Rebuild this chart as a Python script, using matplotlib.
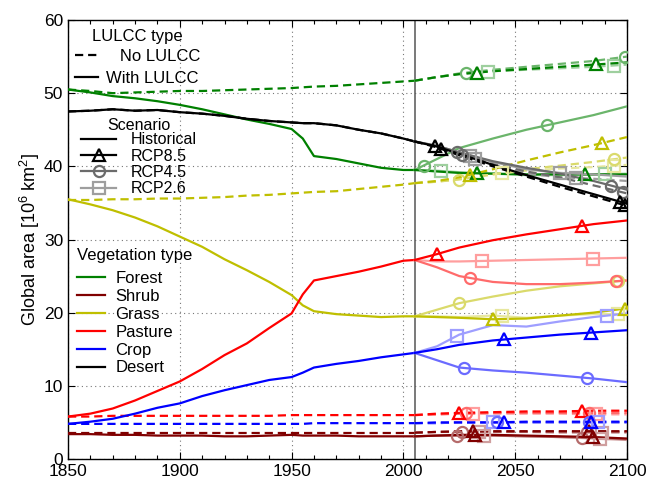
import numpy as np
import matplotlib
matplotlib.use('Agg')
import matplotlib.pyplot as plt
from matplotlib.lines import Line2D
from matplotlib.ticker import MultipleLocator

plt.rcParams['font.family'] = ['Liberation Sans', 'DejaVu Sans']
plt.rcParams['mathtext.fontset'] = 'custom'
plt.rcParams['mathtext.rm'] = 'Liberation Sans'
plt.rcParams['mathtext.it'] = 'Liberation Sans:italic'

# ---------------- data ----------------
veg_types = ['Forest', 'Shrub', 'Grass', 'Pasture', 'Crop', 'Desert']
scenarios = ['RCP8.5', 'RCP4.5', 'RCP2.6']

hist_years = [1850, 1860, 1870, 1880, 1890, 1900, 1910, 1920, 1930, 1940,
              1950, 1955, 1960, 1970, 1980, 1990, 2000, 2005]
fut_years = [2005, 2015, 2025, 2040, 2055, 2070, 2085, 2100]

# historical, with LULCC
forest_hist_with = [50.5, 50.1, 49.6, 49.3, 48.9, 48.4, 47.8, 47.1, 46.4, 45.8, 45.1, 43.8, 41.4, 41.0, 40.4, 39.8, 39.5, 39.5]
shrub_hist_with = [3.4, 3.4, 3.3, 3.3, 3.2, 3.2, 3.2, 3.1, 3.1, 3.2, 3.3, 3.2, 3.2, 3.2, 3.1, 3.1, 3.1, 3.1]
grass_hist_with = [35.5, 34.8, 34.0, 33.0, 31.8, 30.4, 29.0, 27.3, 25.8, 24.2, 22.4, 21.0, 20.2, 19.8, 19.6, 19.4, 19.5, 19.5]
pasture_hist_with = [5.8, 6.2, 6.9, 8.0, 9.3, 10.6, 12.3, 14.2, 15.8, 17.9, 19.9, 22.5, 24.4, 25.0, 25.6, 26.3, 27.1, 27.2]
crop_hist_with = [4.8, 5.1, 5.5, 6.2, 7.0, 7.6, 8.6, 9.4, 10.1, 10.8, 11.2, 11.8, 12.5, 13.0, 13.4, 13.9, 14.3, 14.5]
desert_hist_with = [47.5, 47.6, 47.8, 47.6, 47.7, 47.4, 47.2, 46.9, 46.5, 46.2, 46.0, 45.9, 45.9, 45.6, 45.0, 44.5, 43.8, 43.4]

# historical, no LULCC
forest_hist_no = [50.5, 50.3, 50.0, 50.1, 50.2, 50.3, 50.3, 50.4, 50.5, 50.6, 50.7, 50.8, 50.9, 51.0, 51.2, 51.4, 51.6, 51.7]
shrub_hist_no = [3.6, 3.6, 3.6, 3.6, 3.6, 3.6, 3.6, 3.6, 3.6, 3.6, 3.6, 3.6, 3.6, 3.6, 3.6, 3.6, 3.6, 3.6]
grass_hist_no = [35.4, 35.4, 35.5, 35.5, 35.6, 35.6, 35.7, 35.8, 36.0, 36.1, 36.3, 36.4, 36.5, 36.6, 36.9, 37.2, 37.5, 37.7]
pasture_hist_no = [5.8, 5.8, 5.9, 5.9, 5.9, 5.9, 5.9, 5.9, 5.9, 5.9, 6.0, 6.0, 6.0, 6.0, 6.0, 6.0, 6.0, 6.0]
crop_hist_no = [4.8, 4.8, 4.8, 4.8, 4.8, 4.8, 4.8, 4.8, 4.8, 4.8, 4.8, 4.8, 4.9, 4.9, 4.9, 4.9, 4.9, 4.9]
desert_hist_no = [47.5, 47.6, 47.8, 47.6, 47.7, 47.4, 47.2, 46.9, 46.5, 46.2, 46.0, 45.9, 45.9, 45.6, 45.0, 44.5, 43.8, 43.4]

# future, with LULCC  (RCP8.5, RCP4.5, RCP2.6)
forest_fut_with = [[39.5, 39.3, 39.1, 39.0, 38.9, 38.9, 38.9, 38.9],
                   [39.5, 41.0, 42.5, 43.8, 45.0, 46.0, 47.0, 48.2],
                   [39.5, 39.4, 39.2, 39.0, 38.8, 38.8, 38.9, 39.0]]
shrub_fut_with = [[3.1, 3.2, 3.3, 3.3, 3.2, 3.1, 3.0, 2.8],
                  [3.1, 3.2, 3.2, 3.2, 3.1, 3.0, 2.9, 2.7],
                  [3.1, 3.2, 3.2, 3.2, 3.1, 3.0, 2.8, 2.6]]
grass_fut_with = [[19.5, 19.4, 19.3, 19.1, 19.2, 19.6, 20.0, 20.6],
                  [19.5, 20.4, 21.3, 22.2, 23.0, 23.6, 24.0, 24.4],
                  [19.5, 19.5, 19.4, 19.6, 19.3, 19.6, 19.8, 19.8]]
pasture_fut_with = [[27.2, 28.0, 28.9, 29.9, 30.7, 31.4, 32.1, 32.6],
                    [27.2, 26.2, 25.0, 24.2, 23.9, 23.9, 24.1, 24.4],
                    [27.2, 27.0, 27.0, 27.1, 27.2, 27.3, 27.4, 27.5]]
crop_fut_with = [[14.5, 15.0, 15.6, 16.2, 16.6, 17.0, 17.3, 17.6],
                 [14.5, 13.5, 12.5, 12.1, 11.8, 11.4, 11.0, 10.5],
                 [14.5, 15.4, 17.0, 18.3, 18.1, 18.8, 19.4, 19.9]]
desert_fut_with = [[43.4, 42.7, 41.7, 40.2, 38.8, 37.5, 36.2, 34.9],
                   [43.4, 42.8, 41.9, 40.7, 39.8, 39.0, 38.0, 36.8],
                   [43.4, 42.8, 41.9, 40.6, 39.6, 39.1, 38.9, 38.6]]

# future, no LULCC
forest_fut_no = [[51.7, 52.2, 52.6, 53.0, 53.3, 53.6, 53.9, 54.2],
                 [51.7, 52.2, 52.7, 53.2, 53.6, 54.0, 54.4, 55.0],
                 [51.7, 52.2, 52.6, 53.0, 53.2, 53.4, 53.6, 53.9]]
shrub_fut_no = [[3.6, 3.7, 3.8, 3.8, 3.8, 3.8, 3.8, 3.8],
                [3.6, 3.7, 3.7, 3.7, 3.7, 3.7, 3.7, 3.7],
                [3.6, 3.7, 3.7, 3.7, 3.7, 3.6, 3.6, 3.6]]
grass_fut_no = [[37.7, 38.0, 38.5, 39.6, 40.8, 41.9, 42.9, 44.0],
                [37.7, 37.9, 38.2, 38.9, 39.6, 40.1, 40.6, 41.2],
                [37.7, 37.9, 38.3, 38.9, 39.4, 39.7, 39.9, 40.2]]
pasture_fut_no = [[6.0, 6.2, 6.3, 6.4, 6.5, 6.5, 6.6, 6.6],
                  [6.0, 6.1, 6.2, 6.3, 6.3, 6.3, 6.3, 6.3],
                  [6.0, 6.1, 6.2, 6.2, 6.2, 6.2, 6.1, 6.1]]
crop_fut_no = [[4.9, 5.0, 5.0, 5.0, 5.1, 5.1, 5.1, 5.1],
               [4.9, 4.9, 5.0, 5.0, 5.0, 5.0, 5.0, 5.0],
               [4.9, 4.9, 5.0, 5.0, 5.0, 5.0, 5.0, 5.0]]
desert_fut_no = [[43.4, 42.6, 41.5, 40.0, 38.6, 37.2, 35.9, 34.6],
                 [43.4, 42.7, 41.7, 40.3, 39.3, 38.5, 37.4, 36.3],
                 [43.4, 42.7, 41.6, 40.2, 39.0, 38.5, 38.3, 38.0]]

hist_with = [forest_hist_with, shrub_hist_with, grass_hist_with, pasture_hist_with, crop_hist_with, desert_hist_with]
hist_no = [forest_hist_no, shrub_hist_no, grass_hist_no, pasture_hist_no, crop_hist_no, desert_hist_no]
fut_with = [forest_fut_with, shrub_fut_with, grass_fut_with, pasture_fut_with, crop_fut_with, desert_fut_with]
fut_no = [forest_fut_no, shrub_fut_no, grass_fut_no, pasture_fut_no, crop_fut_no, desert_fut_no]

# marker years (per veg; per scenario) -- style placement
mk_with = [[[2033, 2081], [2009, 2064], [2017, 2090]],
           [[2032, 2085], [2024, 2080], [2036, 2088]],
           [[2040, 2099], [2025, 2096], [2044, 2096]],
           [[2015, 2080], [2030, 2095], [2035, 2085]],
           [[2045, 2084], [2027, 2082], [2024, 2091]],
           [[2014, 2097], [2024, 2093], [2030, 2070]]]
mk_no = [[[2033, 2086], [2028, 2099], [2038, 2094]],
         [[2031, 2083], [2026, 2082], [2034, 2089]],
         [[2030, 2089], [2025, 2094], [2044, 2094]],
         [[2025, 2080], [2028, 2083], [2031, 2086]],
         [[2045, 2084], [2042, 2083], [2040, 2087]],
         [[2017, 2099], [2026, 2098], [2032, 2077]]]

colors = ['#008000', '#800000', '#BFBF00', '#FF0000', '#0000FF', '#000000']
scen_markers = ['^', 'o', 's']
scen_white = [0.0, 0.42, 0.62]


def lighten(c, w):
    rgb = np.array(matplotlib.colors.to_rgb(c))
    return tuple(rgb * (1 - w) + w)


fig = plt.figure(figsize=(6.48, 4.83), dpi=100)
ax = fig.add_axes([68 / 648, 24 / 483, 559 / 648, 439 / 483])

lw = 1.6
dash = (3.7, 2.2)
msz = 8
for i in range(len(veg_types)):
    c = colors[i]
    ax.plot(hist_years, hist_no[i], color=c, lw=lw, ls=(0, dash), zorder=3)
    ax.plot(hist_years, hist_with[i], color=c, lw=lw, zorder=3)
    for s in [2, 1, 0]:
        cs = lighten(c, scen_white[s])
        ax.plot(fut_years, fut_no[i][s], color=cs, lw=lw, ls=(0, dash), zorder=3)
        ax.plot(fut_years, fut_with[i][s], color=cs, lw=lw, zorder=3)
        for data, mk in ((fut_no[i][s], mk_no[i][s]), (fut_with[i][s], mk_with[i][s])):
            ax.plot(mk, np.interp(mk, fut_years, data), ls='none', marker=scen_markers[s],
                    ms=msz, mfc='none', mec=cs, mew=1.6, zorder=4)

ax.axvline(2005, color='#555555', lw=1.1, zorder=2)

ax.set_xlim(1850, 2100)
ax.set_ylim(0, 60)
ax.xaxis.set_major_locator(MultipleLocator(50))
ax.xaxis.set_minor_locator(MultipleLocator(10))
ax.yaxis.set_major_locator(MultipleLocator(10))
ax.tick_params(which='both', direction='in', top=True, right=True, labelsize=12.5)
ax.tick_params(which='major', length=5, width=0.8)
ax.tick_params(which='minor', length=3, width=0.8)
ax.grid(True, which='major', ls=(0, (1, 3)), color='#777777', lw=0.8)
ax.set_ylabel('Global area [10$^6$ km$^2$]', fontsize=13, labelpad=1)
for sp in ax.spines.values():
    sp.set_linewidth(1.0)

# legends
fs = 12
h1 = [Line2D([], [], color='k', lw=lw, ls=(0, dash)), Line2D([], [], color='k', lw=lw)]
leg1 = ax.legend(h1, ['   No LULCC', 'With LULCC'], title='LULCC type', loc='upper left',
                 bbox_to_anchor=(0.0, 0.995), frameon=False, fontsize=fs, title_fontsize=fs,
                 handlelength=1.4, handletextpad=0.5, labelspacing=0.42, borderpad=0.2,
                 borderaxespad=0.2)
leg1._legend_box.sep = 0.42 * fs - 1.5
ax.add_artist(leg1)

h2 = [Line2D([], [], color='k', lw=lw)]
for s in range(3):
    cs = lighten('k', scen_white[s])
    h2.append(Line2D([], [], color=cs, lw=lw, marker=scen_markers[s], ms=msz, mfc='none',
                     mec=cs, mew=1.6))
leg2 = ax.legend(h2, ['Historical'] + scenarios, title='Scenario', loc='upper left',
                 bbox_to_anchor=(0.012, 0.792), frameon=False, fontsize=11.5, title_fontsize=11.5,
                 handlelength=2.2, handletextpad=0.9, labelspacing=0.08, borderpad=0.2,
                 borderaxespad=0.2)
leg2._legend_box.sep = 0.08 * 11.5 - 1.2
ax.add_artist(leg2)

h3 = [Line2D([], [], color=colors[i], lw=lw) for i in range(len(veg_types))]
leg3 = ax.legend(h3, veg_types, title='Vegetation type', loc='upper left',
                 bbox_to_anchor=(0.004, 0.495), frameon=False, fontsize=fs, title_fontsize=fs,
                 handlelength=1.7, handletextpad=0.6, labelspacing=0.17, borderpad=0.2,
                 borderaxespad=0.2)
leg3._legend_box.sep = 0.17 * fs + 3.6
leg3._legend_box.align = 'left'

fig.savefig('out.png', dpi=100)
